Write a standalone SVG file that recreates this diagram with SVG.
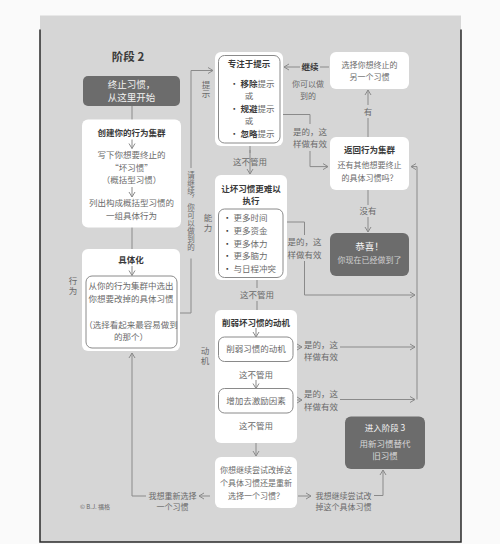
<svg xmlns="http://www.w3.org/2000/svg" width="500" height="544" viewBox="0 0 500 544">
<defs>
<marker id="ah" markerWidth="8" markerHeight="8" refX="6" refY="4" orient="auto" markerUnits="userSpaceOnUse"><path d="M1,1 L6,4 L1,7" fill="none" stroke="#8a8a8a" stroke-width="1"/></marker>
</defs>
<style>
text{font-family:"Noto Sans CJK SC","Noto Sans",sans-serif;font-size:8.5px;text-anchor:middle;fill:#6a6a6a}
.b{font-weight:bold;fill:#3a3a3a}
.k{fill:#3a3a3a}
.w{fill:#f2f2f2}
.l{text-anchor:start}
.vt{writing-mode:vertical-rl;text-orientation:upright;text-anchor:start}
.box{fill:#fff}
.in{fill:#fff;stroke:#8a8a8a;stroke-width:1}
.dk{fill:#6c6c6c}
.ln{stroke:#8a8a8a;stroke-width:1;fill:none}
.ar{stroke:#8a8a8a;stroke-width:1;fill:none;marker-end:url(#ah)}
</style>
<rect width="500" height="544" fill="#fafafa"/>
<rect x="40" y="15.5" width="421" height="526.5" fill="#d6d6d6"/>
<path d="M40,29.5 V542 H461 V29.5" fill="none" stroke="#2a2a2a" stroke-width="1.5"/>

<text x="128" y="60.5" class="b" style="font-size:11.5px">阶段 2</text>
<text x="95" y="509" style="font-size:6px">© B.J. 福格</text>

<g id="connectors">
<path class="ln" d="M132,106 V120"/>
<path class="ln" d="M132,227 V249"/>
<path class="ln" d="M180,313 H191 V258.5"/>
<path class="ar" d="M191,168 V70.5 H213"/>
<path class="ar" d="M250,150 V174"/>
<path class="ln" d="M250,145 V153"/>
<path class="ln" d="M257,280 V288"/>
<path class="ln" d="M257,301 V310"/>
<path class="ar" d="M256,413 V418"/>
<path class="ar" d="M256,431 V456"/>
<path class="ar" d="M210,496 H199"/>
<path class="ar" d="M146,496 H132 V353"/>
<path class="ar" d="M298,496 H311"/>
<path class="ar" d="M374,495.5 H383 V470"/>
<path class="ar" d="M300,67 H284"/>
<path class="ln" d="M320,67 H329"/>
<path class="ar" d="M368,105 V90"/>
<path class="ln" d="M368,137 V118"/>
<path class="ln" d="M368,190 V205"/>
<path class="ar" d="M368,217 V232"/>
<path class="ln" d="M280,114.5 H310 V124"/>
<path class="ar" d="M310,151 V166.6 H328"/>
<path class="ln" d="M283,222 H304.5 V235"/>
<path class="ar" d="M304.5,261 V295 H415"/>
<path class="ar" d="M293,347 H302"/>
<path class="ar" d="M340,347 H415"/>
<path class="ar" d="M293,400 H302"/>
<path class="ar" d="M340,399.5 H415"/>
<path class="ar" d="M417,399.5 V166.6 H411"/>
</g>

<text id="label-xingwei" class="vt" x="73" y="277" style="letter-spacing:1px">行为</text>
<text id="label-tishi" class="vt" x="206" y="81" style="letter-spacing:0.5px">提示</text>
<text id="label-nengli" class="vt" x="208" y="214" style="letter-spacing:1px">能力</text>
<text id="label-dongji" class="vt" x="205" y="347" style="letter-spacing:1px">动机</text>
<text id="label-continue" class="vt" x="191" y="171" style="font-size:7.5px;letter-spacing:0.5px">请继续，你可以做到的</text>

<g id="start">
<rect class="dk" x="83" y="76" width="97" height="30" rx="5"/>
<text class="w" x="131.5" y="88" style="font-size:9.5px">终止习惯，</text>
<text class="w" x="131.5" y="101" style="font-size:9.5px">从这里开始</text>
</g>

<g id="cluster">
<rect class="box" x="82" y="119.5" width="99" height="108" rx="6"/>
<text class="b" x="131.5" y="136">创建你的行为集群</text>
<path class="ar" d="M132,139.5 V148.5"/>
<text x="131.5" y="158">写下你想要终止的</text>
<text x="131.5" y="170.5">“坏习惯”</text>
<text x="131.5" y="183">（概括型习惯）</text>
<path class="ar" d="M132,187 V197"/>
<text x="131.5" y="206">列出构成概括型习惯的</text>
<text x="131.5" y="219">一组具体行为</text>
</g>

<g id="specify">
<rect class="box" x="82" y="249" width="98" height="102" rx="6"/>
<text class="b" x="131" y="263">具体化</text>
<path class="ar" d="M132,266 V275.5"/>
<rect class="in" x="86" y="276" width="91" height="72" rx="6"/>
<text x="131" y="289">从你的行为集群中选出</text>
<text x="131" y="301.5">你想要改掉的具体习惯</text>
<text x="131" y="327.5">（选择看起来最容易做到</text>
<text x="131" y="339.5">的那个）</text>
</g>

<g id="prompt">
<rect class="box" x="215" y="52" width="68" height="94" rx="6"/>
<rect class="in" x="218.5" y="55.5" width="61.5" height="87.5" rx="6"/>
<text class="b" x="249" y="66.5">专注于提示</text>
<text x="230" y="86.5" class="l"><tspan class="k">• </tspan><tspan class="b">移除</tspan>提示</text>
<text x="249" y="98.5">或</text>
<text x="230" y="111.5" class="l"><tspan class="k">• </tspan><tspan class="b">规避</tspan>提示</text>
<text x="249" y="124">或</text>
<text x="230" y="137" class="l"><tspan class="k">• </tspan><tspan class="b">忽略</tspan>提示</text>
</g>
<text x="250" y="164.5">这不管用</text>

<g id="ability">
<rect class="box" x="215" y="175" width="72" height="105" rx="6"/>
<text class="b" x="251" y="191.5">让坏习惯更难以</text>
<text class="b" x="251" y="203.5">执行</text>
<rect class="in" x="218.5" y="209" width="64.5" height="68.5" rx="6"/>
<text x="223" y="221" class="l"><tspan class="k">• </tspan>更多时间</text>
<text x="223" y="234" class="l"><tspan class="k">• </tspan>更多资金</text>
<text x="223" y="246.5" class="l"><tspan class="k">• </tspan>更多体力</text>
<text x="223" y="259" class="l"><tspan class="k">• </tspan>更多脑力</text>
<text x="223" y="272" class="l"><tspan class="k">• </tspan>与日程冲突</text>
</g>
<text x="257" y="298">这不管用</text>

<g id="motivation">
<rect class="box" x="215" y="310" width="82" height="133" rx="6"/>
<text class="b" x="256" y="326">削弱坏习惯的动机</text>
<path class="ar" d="M256,328 V337"/>
<rect class="in" x="218.5" y="337" width="74.5" height="24.5" rx="6"/>
<text x="256" y="352">削弱习惯的动机</text>
<text x="256" y="378">这不管用</text>
<path class="ar" d="M256,380 V388.5"/>
<rect class="in" x="218.5" y="388.5" width="74.5" height="24.5" rx="6"/>
<text x="256" y="403.5">增加去激励因素</text>
<text x="256" y="428.5">这不管用</text>
</g>

<g id="question">
<rect class="box" x="215" y="457" width="82" height="51" rx="6"/>
<text x="256" y="473" style="font-size:8px">你想继续尝试改掉这</text>
<text x="256" y="486" style="font-size:8px">个具体习惯还是重新</text>
<text x="256" y="499" style="font-size:8px">选择一个习惯？</text>
</g>

<g id="label-rechoose">
<text x="172.5" y="499" style="font-size:8px">我想重新选择</text>
<text x="172.5" y="510" style="font-size:8px">一个习惯</text>
</g>
<g id="label-keep">
<text x="343.5" y="498.5" style="font-size:8px">我想继续尝试改</text>
<text x="343.5" y="510" style="font-size:8px">掉这个具体习惯</text>
</g>

<g id="stage3">
<rect class="dk" x="345" y="416.5" width="80" height="52.5" rx="6"/>
<text class="w" x="385" y="431">进入阶段 3</text>
<text class="w" x="385" y="446.5" style="fill:#d8d8d8">用新习惯替代</text>
<text class="w" x="385" y="459" style="fill:#d8d8d8">旧习惯</text>
</g>

<g id="another">
<rect class="box" x="330" y="52" width="79" height="37" rx="6"/>
<text x="369.5" y="67.5" style="font-size:8px">选择你想终止的</text>
<text x="369.5" y="80" style="font-size:8px">另一个习惯</text>
</g>
<g id="label-jixu">
<text class="b" x="310" y="70">继续</text>
<text x="308" y="86.5" style="font-size:8px">你可以做</text>
<text x="308" y="99" style="font-size:8px">到的</text>
</g>
<text x="368" y="114.5">有</text>

<g id="return">
<rect class="box" x="330" y="137" width="79" height="53" rx="6"/>
<text class="b" x="369.5" y="153">返回行为集群</text>
<text x="369.5" y="168" style="font-size:8px">还有其他想要终止</text>
<text x="369.5" y="180.5" style="font-size:8px">的具体习惯吗？</text>
</g>
<text x="368" y="214">没有</text>

<g id="congrats">
<rect class="dk" x="330" y="233" width="79" height="43" rx="6"/>
<text class="w" x="369.5" y="250" style="font-size:9.5px">恭喜！</text>
<text class="w" x="369.5" y="263" style="font-size:8px;fill:#d0d0d0">你现在已经做到了</text>
</g>

<g id="label-yes1"><text x="310" y="135">是的，这</text><text x="310" y="147">样做有效</text></g>
<g id="label-yes2"><text x="304.5" y="245">是的，这</text><text x="304.5" y="258">样做有效</text></g>
<g id="label-yes3"><text x="321" y="347.5">是的，这</text><text x="321" y="360">样做有效</text></g>
<g id="label-yes4"><text x="321" y="397">是的，这</text><text x="321" y="409.5">样做有效</text></g>
</svg>
